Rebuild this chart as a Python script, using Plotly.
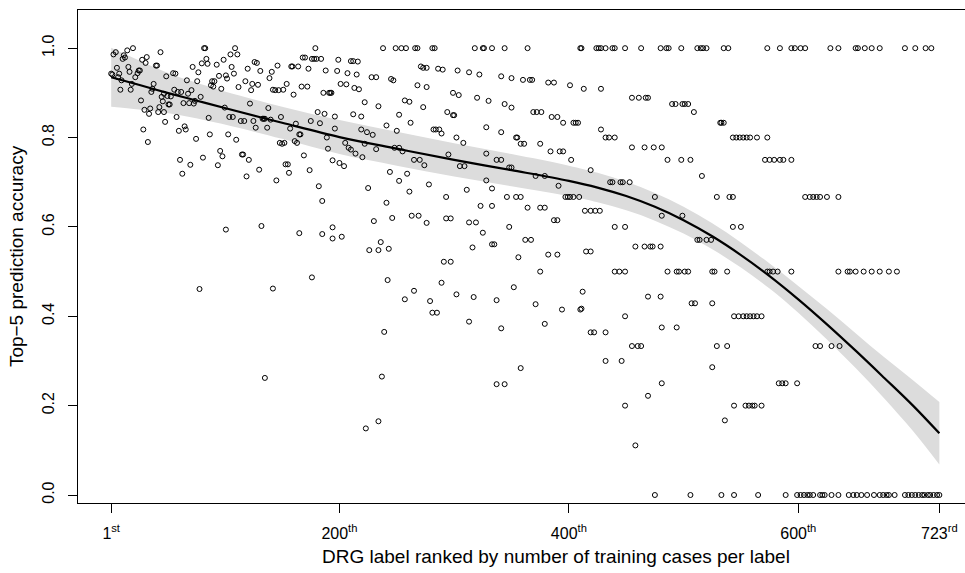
import plotly.graph_objects as go

# ---------------- data: (rank, top-5 accuracy) ----------------
points_head = [
    (1,.943),(2,.941),(3,.986),(5,.991),(6,.956),(7,.935),(8,.943),(9,.907),(10,.928),(11,.976),
    (12,.984),(13,.979),(15,.995),(16,.958),(17,.947),(18,.907),(19,.920),(20,1.0),(22,.935),(24,.944),
    (25,.950),(26,.950),(27,.883),(28,.974),(29,.818),(30,.862),(31,.967),(32,.980),(33,.790),(34,.853),
    (35,.865),(36,.902),(37,.909),(38,.920),(40,.961),(41,.961),(42,.857),(43,.868),(44,.991),(45,.891),
    (46,.881),(47,.857),(47,.898),(48,.835),(49,.937),(50,.893),(51,.874),(52,.874),(53,.892),(55,.944),
    (56,.907),(57,.943),(58,.846),(59,.902),(60,.815),(61,.750),(62,.902),(63,.719),(64,.877),(65,.825),
    (66,.818),(67,.928),(68,.898),(69,.877),(70,.739),(71,.906),(72,.958),(73,.876),(74,.882),(75,.797),
    (76,.926),(77,.946),(79,.891),(80,.966),(81,.755),(82,1.0),(83,1.0),(84,.976),(85,.965),(86,.844),
    (87,.807),(88,.917),(89,.926),(90,.914),(91,.926),(93,.963),(94,.738),(95,.938),(96,.770),(97,.909),
    (98,.758),(99,.974),(100,.867),(101,.939),(102,.932),(103,.807),(104,.846),(105,.986),(106,.958),(107,.846),
    (108,.943),(109,1.0),(110,.795),(111,.986),(112,.913),(114,.837),(115,.762),(116,.762),(117,.837),(118,.926),
    (119,.713),(120,.954),(121,.750),(122,.876),(123,.906),(124,.920),(125,.837),(126,.969),(127,.822),(128,.967),
    (129,.918),(130,.728),(131,.949),(133,.842),(134,.842),(135,.842),(137,.822),(138,.866),(139,.933),(140,.840),
    (141,.947),(142,.907),(144,.906),(145,.704),(146,.961),(147,.906),(148,.788),(149,.846),(150,.786),(151,.907),
    (152,.788),(153,.740),(154,.920),(155,.740),(156,.721),(157,.820),(158,.959),(159,.959),(160,.896),(161,.792),
    (162,.831),(163,.788),(164,.959),(165,.807),(166,.807),(167,.914),(168,.979),(169,.760),(170,.979),(172,.914),
    (173,.954),(174,.727),(175,.837),(176,.976),(178,.976),(179,1.0),(180,.976),(181,.857),(182,.691),(183,.832),
    (184,.976),(185,.658),(186,.900),(187,.853),(188,.950),(189,.800),(190,.775),(191,.900),(192,.900),(193,.900),
    (196,.847),
    (101,.594),(132,.602),(165,.586),(185,.584),(194,.599),(194,.574),(176,.487),(78,.461),(142,.462),(135,.262),
]

points_middle = [
    (199,.974),(210,.971),(212,.971),(216,.970),(198,.949),(207,.944),(215,.941),(228,.935),(232,.935),(245,.931),
    (247,.928),(201,.920),(206,.919),(213,.911),(217,.908),(268,.917),(276,.913),(271,.959),(273,.956),(276,.956),
    (286,.954),(290,.952),(303,.950),(313,.946),(322,.941),(341,.937),(350,.933),(360,.929),(366,.929),(368,.929),
    (382,.923),(387,.923),(401,.917),(299,.9),(304,.895),(320,.889),(330,.882),(344,.875),(350,.867),(222,.879),
    (234,.870),(257,.883),(261,.880),(273,.868),(294,.857),(299,.850),(300,.850),(369,.857),(372,.857),(376,.857),
    (385,.846),(390,.846),(395,.833),(406,.833),(408,.833),(212,.852),(219,.847),(252,.851),(262,.833),(241,.827),
    (196,.820),(219,.818),(224,.812),(229,.806),(250,.815),(282,.818),(284,.818),(287,.818),(289,.809),(328,.823),
    (341,.812),(302,.8),(308,.788),(354,.8),(355,.8),(358,.786),(361,.786),(375,.786),(384,.769),(392,.769),
    (395,.769),(402,.75),(205,.788),(208,.777),(210,.773),(214,.764),(220,.756),(222,.786),(232,.774),(248,.777),
    (252,.777),(255,.769),(194,.749),(200,.743),(204,.736),(265,.75),(270,.75),(274,.738),(295,.762),(305,.736),
    (309,.736),(328,.764),(337,.75),(341,.75),(348,.733),(350,.733),(371,.714),(379,.714),(391,.692),(397,.667),
    (399,.667),(401,.667),(404,.667),(409,.667),(244,.723),(252,.703),(259,.719),(225,.687),(278,.695),(261,.679),
    (311,.683),(328,.704),(333,.686),(293,.667),(346,.667),(354,.667),(358,.667),(241,.654),(323,.647),(333,.647),
    (364,.643),(375,.643),(379,.643),(230,.613),(246,.620),(263,.625),(269,.625),(276,.609),(293,.619),(297,.619),
    (313,.610),(319,.610),(348,.600),(387,.615),(390,.615),
    (202,.578),(325,.587),(236,.566),(226,.548),(234,.548),(243,.551),(316,.554),(333,.561),(335,.561),(362,.571),
    (367,.571),(356,.532),(382,.538),(390,.538),(375,.5),(291,.522),(297,.522),(242,.481),(289,.475),(265,.457),
    (257,.438),(279,.434),(302,.449),(317,.443),(337,.436),(352,.465),(371,.427),(394,.415),(410,.415),(281,.408),
    (285,.408),(313,.388),(341,.373),(379,.383),(239,.365),(358,.284),(337,.248),(344,.248),(237,.265),(234,.165),
    (223,.149),
]

points_tail = [
    (413,.909),(428,.909),(455,.889),(461,.889),(467,.889),(469,.889),(490,.875),(493,.875),(499,.875),(501,.875),
    (504,.875),(509,.857),(404,.833),(532,.833),(533,.833),(535,.833),(428,.818),(432,.8),(435,.8),(440,.8),
    (543,.8),(546,.8),(549,.8),(552,.8),(555,.8),(558,.8),(564,.8),(573,.8),(455,.778),(466,.778),
    (474,.778),(481,.778),(486,.75),(498,.75),(506,.75),(571,.75),(575,.75),(579,.75),(584,.75),(587,.75),
    (594,.75),(419,.727),(516,.714),(436,.7),(438,.7),(445,.7),(447,.7),(453,.7),(475,.667),(529,.667),
    (540,.667),(543,.667),(606,.667),(610,.667),(613,.667),(616,.667),(619,.667),(625,.667),(635,.667),(414,.636),
    (419,.636),(423,.636),(427,.636),(481,.625),(499,.625),(440,.6),(449,.6),(543,.6),(550,.6),
    (415,.545),(419,.545),(458,.556),(466,.556),(471,.556),(473,.556),(480,.556),(512,.571),(514,.571),(520,.571),
    (524,.571),(412,.455),(411,.417),(469,.444),(480,.444),(507,.429),(510,.429),(525,.429),(449,.4),(481,.375),
    (494,.375),(419,.364),(422,.364),(432,.364),(432,.3),(446,.3),(525,.286),(481,.25),(583,.25),(586,.25),
    (589,.25),(599,.25),(469,.222),(449,.2),(536,.167),(458,.111),
]

# ranks whose accuracy sits exactly on a common fraction row
rank_acc_100 = [238,249,254,258,266,268,281,283,318,325,326,333,344,364,410,
                411,424,426,428,432,438,440,449,463,480,485,487,498,512,515,517,520,535,539,
                573,584,594,597,602,606,628,635,650,652,658,664,671,693,702,711,716]
rank_acc_050 = [440,444,449,486,494,496,501,504,525,527,538,573,575,578,582,594,
                635,643,645,650,657,664,671,679,686]
rank_acc_040 = [544,548,552,555,558,561,564,568]
rank_acc_033 = [455,460,463,529,538,615,619,629,636]
rank_acc_020 = [544,554,557,560,562,568]
rank_acc_000 = [475,506,533,544,565,589,599,602,605,608,610,613,619,621,623,629,635,644,648,651,
                655,660,666,671,674,677,679,684,693,696,699,702,705,708,710,713,715,718,721,723]
row_levels = {1.0: rank_acc_100, 0.5: rank_acc_050, 0.4: rank_acc_040,
              1/3: rank_acc_033, 0.2: rank_acc_020, 0.0: rank_acc_000}

# smoother (mean) with its confidence band
fit_rank  = [1, 25, 50, 75, 100, 150, 200, 250, 300, 350, 400, 425, 450, 475, 500, 525, 550, 575, 600, 625, 650, 675, 700, 723]
fit_mean  = [0.935, 0.918, 0.900, 0.883, 0.866, 0.833, 0.801, 0.775, 0.750, 0.727, 0.703, 0.688, 0.669, 0.645, 0.615, 0.579, 0.537, 0.490, 0.438, 0.382, 0.323, 0.262, 0.200, 0.138]
fit_upper = [1.001, 0.973, 0.945, 0.923, 0.903, 0.869, 0.839, 0.813, 0.787, 0.763, 0.737, 0.721, 0.701, 0.676, 0.645, 0.608, 0.565, 0.518, 0.468, 0.416, 0.362, 0.308, 0.257, 0.208]
fit_lower = [0.869, 0.863, 0.855, 0.843, 0.829, 0.797, 0.763, 0.737, 0.713, 0.691, 0.669, 0.655, 0.637, 0.614, 0.585, 0.550, 0.509, 0.462, 0.408, 0.348, 0.284, 0.216, 0.143, 0.068]

tick_ranks  = [1, 200, 400, 600, 723]
tick_labels = ["1<sup>st</sup>", "200<sup>th</sup>", "400<sup>th</sup>", "600<sup>th</sup>", "723<sup>rd</sup>"]
y_ticks     = [0.0, 0.2, 0.4, 0.6, 0.8, 1.0]
y_labels    = ["0.0", "0.2", "0.4", "0.6", "0.8", "1.0"]
x_title = "DRG label ranked by number of training cases per label"
y_title = "Top\u22125 prediction accuracy"

# ---------------- assemble ----------------
px, py = [], []
for grp in (points_head, points_middle, points_tail):
    for r, a in grp:
        px.append(r)
        py.append(a)
for lvl, ranks in row_levels.items():
    for r in ranks:
        px.append(r)
        py.append(lvl)

FONT = "Liberation Sans, Arial, Helvetica, sans-serif"
W, H = 965, 573
ML, MR, MT, MB = 78, 0, 10, 70

fig = go.Figure()
fig.add_trace(go.Scatter(
    x=fit_rank, y=fit_lower, mode="lines", line=dict(width=0, shape="spline"),
    hoverinfo="skip", showlegend=False))
fig.add_trace(go.Scatter(
    x=fit_rank, y=fit_upper, mode="lines", line=dict(width=0, shape="spline"),
    fill="tonexty", fillcolor="#dcdcdc", hoverinfo="skip", showlegend=False))
fig.add_trace(go.Scatter(
    x=px, y=py, mode="markers",
    marker=dict(symbol="circle-open", size=5, color="black", line=dict(width=1, color="black")),
    showlegend=False))
fig.add_trace(go.Scatter(
    x=fit_rank, y=fit_mean, mode="lines", line=dict(color="black", width=2.2, shape="spline"),
    showlegend=False))

plot_w = W - ML - MR
fig.update_layout(
    width=W, height=H,
    margin=dict(l=ML, r=MR, t=MT, b=MB),
    plot_bgcolor="white", paper_bgcolor="white",
    font=dict(family=FONT, size=16, color="black"),
    showlegend=False,
    annotations=[dict(
        text=x_title, xref="paper", yref="paper",
        x=(556 - ML) / plot_w, y=-(556 - (H - MB)) / (H - MT - MB),
        xanchor="center", yanchor="middle", showarrow=False,
        font=dict(size=19, family=FONT, color="black"))],
)
fig.update_xaxes(
    range=[-27.93, 745.35], tickvals=tick_ranks, ticktext=tick_labels,
    ticks="outside", ticklen=9, tickcolor="black", tickwidth=1,
    showline=True, linecolor="black", linewidth=1, mirror=True,
    showgrid=False, zeroline=False, ticklabelstandoff=7,
    tickfont=dict(color="black", size=16, family=FONT),
)
fig.update_yaxes(
    range=[-0.0179, 1.0854], tickvals=y_ticks, ticktext=y_labels, tickangle=-90,
    ticks="outside", ticklen=9, tickcolor="black", tickwidth=1,
    showline=True, linecolor="black", linewidth=1, mirror=False,
    showgrid=False, zeroline=False, ticklabelstandoff=8,
    tickfont=dict(color="black", size=16, family=FONT),
    title=dict(text=y_title, standoff=10, font=dict(size=19, color="black", family=FONT)),
)

fig.write_html("out.html", config={"displayModeBar": False},
               post_script="document.body.style.margin='0px';")
